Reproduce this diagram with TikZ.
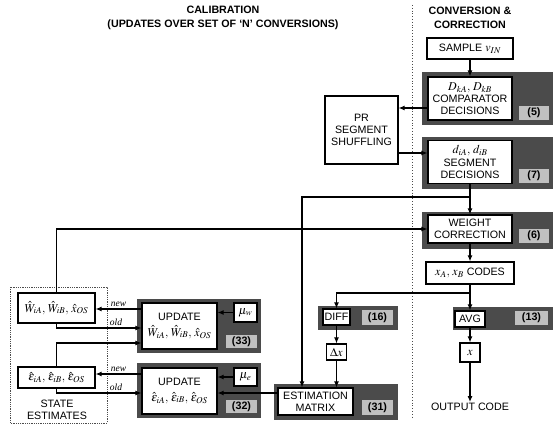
\documentclass[tikz,border=0pt]{standalone}
\usepackage{amsmath}
\usepackage{mathptmx}
\usepackage{fontspec}
\setmainfont{Liberation Sans}
\newfontfamily\oldnew{Liberation Serif}
\usepackage{tikz}
\usetikzlibrary{arrows.meta}
\definecolor{shade}{HTML}{4B4B4B}
\definecolor{tagfill}{HTML}{C0C0C0}
\newcommand{\bigmath}[1]{{\fontsize{12}{13}\selectfont$#1$}}

\begin{document}
\begin{tikzpicture}[x=1pt,y=-1pt,
	font=\fontsize{10.7}{12.3}\selectfont,
	bg/.style={fill=shade, inner sep=0pt},
	blk/.style={draw=black, line width=1.2pt, fill=white, align=center, inner sep=0pt},
	tagbox/.style={fill=tagfill, font=\fontsize{10.7}{12}\selectfont\bfseries, inner sep=0pt},
	conn/.style={black, line width=1.1pt, -{Latex[length=6pt,width=5pt]}},
	lbl/.style={font=\oldnew\itshape\fontsize{9.5}{10}\selectfont, inner sep=1.5pt}]
				\useasboundingbox (0,0) rectangle (553,425);
				\node[font=\fontsize{10.7}{13.5}\selectfont\bfseries, align=center] (caltitle) at (223,18) {CALIBRATION\\(UPDATES OVER SET OF `N' CONVERSIONS)};
				\node[font=\fontsize{10.7}{13.5}\selectfont\bfseries, align=center] (convtitle) at (470,18) {CONVERSION \&\\CORRECTION};
				\draw[black!70, dotted, line width=0.8pt] (412,5) -- (412,417);
				\node[blk, minimum width=86pt, minimum height=21pt] (sample) at (470,48.5) {SAMPLE \bigmath{v_{IN}}};
				\node[bg, minimum width=131pt, minimum height=53pt] (cmpbg) at (487.5,98.5) {};
				\node[blk, minimum width=84pt, minimum height=43pt] (cmp) at (470,98.5) {\bigmath{D_{kA},\,D_{kB}}\\COMPARATOR\\DECISIONS};
				\node[tagbox, minimum width=30pt, minimum height=14pt] (cmptag) at (534,112.5) {(5)};
				\node[blk, minimum width=73pt, minimum height=68pt] (pr) at (361.5,130) {PR\\SEGMENT\\SHUFFLING};
				\node[bg, minimum width=131pt, minimum height=52pt] (segbg) at (487.5,162.5) {};
				\node[blk, minimum width=84pt, minimum height=43pt] (seg) at (470,162) {\bigmath{d_{iA},\,d_{iB}}\\SEGMENT\\DECISIONS};
				\node[tagbox, minimum width=30pt, minimum height=14pt] (segtag) at (534,176) {(7)};
				\node[bg, minimum width=131pt, minimum height=37pt] (wcbg) at (487.5,230.5) {};
				\node[blk, minimum width=84pt, minimum height=28pt] (wc) at (470,229) {WEIGHT\\CORRECTION};
				\node[tagbox, minimum width=30pt, minimum height=14pt] (wctag) at (534,236) {(6)};
				\node[blk, minimum width=88pt, minimum height=22pt] (codes) at (470,273) {\bigmath{x_A,\,x_B} CODES};
				\node[bg, minimum width=100pt, minimum height=23pt] (avgbg) at (503,318.5) {};
				\node[blk, minimum width=30pt, minimum height=16pt] (avg) at (470,319) {AVG};
				\node[tagbox, minimum width=33pt, minimum height=14pt] (avgtag) at (531.5,318) {(13)};
				\node[blk, minimum width=20pt, minimum height=19pt] (xout) at (470,352.5) {\bigmath{x}};
				\node[inner sep=1pt] (outcode) at (470,407) {OUTPUT CODE};
				\node[bg, minimum width=80pt, minimum height=24pt] (diffbg) at (358,318) {};
				\node[blk, minimum width=27pt, minimum height=16pt] (diff) at (336.5,317) {DIFF};
				\node[tagbox, minimum width=31pt, minimum height=15pt] (difftag) at (377.5,317.5) {(16)};
				\node[blk, minimum width=20pt, minimum height=16pt] (dx) at (336.5,352) {\bigmath{\Delta x}};
				\node[bg, minimum width=124pt, minimum height=36pt] (estbg) at (336,402) {};
				\node[blk, minimum width=75pt, minimum height=27pt] (est) at (315.5,401.5) {ESTIMATION\\MATRIX};
				\node[tagbox, minimum width=31pt, minimum height=15pt] (esttag) at (377.5,407.5) {(31)};
				\draw[black!70, densely dotted, line width=0.8pt] (10,287) rectangle (107,423);
				\node[blk, minimum width=77pt, minimum height=30pt] (wstate) at (56.5,308) {\bigmath{\hat{W}_{iA},\,\hat{W}_{iB},\,\hat{x}_{OS}}};
				\node[blk, minimum width=77pt, minimum height=21pt] (estate) at (56.5,377.5) {\bigmath{\hat{\varepsilon}_{iA},\,\hat{\varepsilon}_{iB},\,\hat{\varepsilon}_{OS}}};
				\node[align=center] (statelbl) at (57,410) {STATE\\ESTIMATES};
				\node[bg, minimum width=124pt, minimum height=54pt] (updwbg) at (199,326) {};
				\node[blk, minimum width=75pt, minimum height=46pt] (updw) at (179.5,326) {UPDATE\\[3pt]\bigmath{\hat{W}_{iA},\,\hat{W}_{iB},\,\hat{x}_{OS}}};
				\node[blk, minimum width=23pt, minimum height=19pt] (muw) at (245.5,312.5) {\bigmath{\mu_w}};
				\node[tagbox, minimum width=31pt, minimum height=13pt] (updwtag) at (241.5,341.5) {(33)};
				\node[bg, minimum width=124pt, minimum height=55pt] (updebg) at (199,390.5) {};
				\node[blk, minimum width=75pt, minimum height=46pt] (upde) at (179.5,391) {UPDATE\\[3pt]\bigmath{\hat{\varepsilon}_{iA},\,\hat{\varepsilon}_{iB},\,\hat{\varepsilon}_{OS}}};
				\node[blk, minimum width=23pt, minimum height=18pt] (mue) at (245.5,377) {\bigmath{\mu_e}};
				\node[tagbox, minimum width=31pt, minimum height=13pt] (updetag) at (241.5,406.5) {(32)};
				\coordinate (segsplit) at (470,197);
				\coordinate (codesplit) at (470,293);
				\draw[conn] (sample) -- (cmp);
				\draw[conn] ([yshift=-9.5pt]cmp.west) coordinate (c1) -- (c1 -| pr.east);
				\draw[conn] ([yshift=-23pt]pr.east) coordinate (c2) -- (c2 -| seg.west);
				\draw[conn] (seg) -- (wc);
				\draw[conn] (segsplit) -| ([xshift=-13.5pt]est.north);
				\draw[conn] (wstate.north) |- (wc.west);
				\draw[conn] (wc) -- (codes);
				\draw[conn] (codes) -- (avg);
				\draw[conn] (codesplit) -| (diff.north);
				\draw[conn] (diff) -- (dx);
				\draw[conn] (dx) -- (dx |- est.north);
				\draw[conn] (avg) -- (xout);
				\draw[conn] (xout) -- (xout |- outcode.north);
				\draw[conn] ([yshift=17pt]updw.west) coordinate (c3) -- (c3 -| wstate.east) node[lbl, midway, above] {new};
				\draw[conn] (wstate.south) |- ([yshift=-2pt]updw.west) node[lbl, pos=0.85, above] {old};
				\draw[conn] (estate.north) |- ([yshift=-17pt]updw.west);
				\draw[conn] ([yshift=17pt]upde.west) coordinate (c4) -- (c4 -| estate.east) node[lbl, midway, above] {new};
				\draw[conn] (estate.south) |- ([yshift=-2pt]upde.west) node[lbl, pos=0.85, above] {old};
				\draw[conn] (muw) -- (muw -| updw.east);
				\draw[conn] (mue) -- (mue -| upde.east);
				\draw[conn] ([yshift=8.5pt]est.west) coordinate (c5) -- (c5 -| upde.east);
			\end{tikzpicture}
\end{document}
